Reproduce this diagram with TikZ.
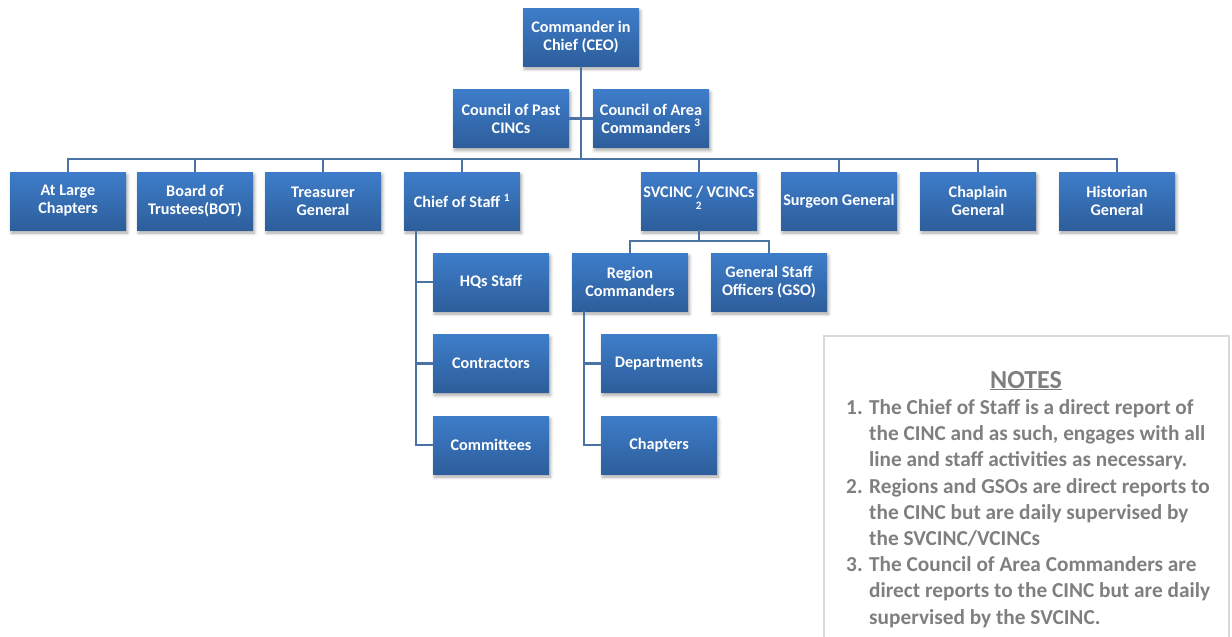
\documentclass[tikz,border=0pt]{standalone}
\usepackage{fontspec}
\setmainfont{Carlito}
\usetikzlibrary{shadows.blur}
\definecolor{boxtop}{HTML}{3E7DCA}
\definecolor{boxbot}{HTML}{2D5E9B}
\definecolor{conn}{HTML}{4A72A5}
\definecolor{notegray}{HTML}{7F7F7F}
\definecolor{noteborder}{HTML}{D9D9D9}
\begin{document}
\begin{tikzpicture}[x=1pt,y=-1pt,
  orgbox/.style={rectangle, minimum width=116pt, minimum height=58pt, inner sep=0pt,
    top color=boxtop, bottom color=boxbot, text=white,
    font=\bfseries\fontsize{16.2}{18}\selectfont, align=center,
    blur shadow={shadow xshift=1.5pt, shadow yshift=-3pt, shadow blur radius=3pt, shadow opacity=35}},
  link/.style={draw=conn, line width=2.2pt},
  notetext/.style={text=notegray, font=\bfseries\fontsize{21.3}{26.2}\selectfont, inner sep=0pt}]
\useasboundingbox (0,0) rectangle (1232,637);

% boxes
\node[orgbox] (cinc) at (581,37) {Commander in\\Chief (CEO)};
\node[orgbox] (past) at (511,118.5) {Council of Past\\CINCs};
\node[orgbox] (area) at (651,118.5) {Council of Area\\Commanders \textsuperscript{3}};

\node[orgbox] (atlarge) at (68,201) {At Large\\Chapters};
\node[orgbox] (board) at (195,201) {Board of\\Trustees(BOT)};
\node[orgbox] (treasurer) at (323,201) {Treasurer\\General};
\node[orgbox] (cos) at (462,201) {Chief of Staff \textsuperscript{1}};
\node[orgbox] (svcinc) at (699,201) {SVCINC / VCINCs\\\textsuperscript{2}};
\node[orgbox] (surgeon) at (839,201) {Surgeon General};
\node[orgbox] (chaplain) at (978,201) {Chaplain\\General};
\node[orgbox] (historian) at (1117,201) {Historian\\General};

\node[orgbox] (hqs) at (491,282) {HQs Staff};
\node[orgbox] (contractors) at (491,363.5) {Contractors};
\node[orgbox] (committees) at (491,445) {Committees};

\node[orgbox] (region) at (630,282) {Region\\Commanders};
\node[orgbox] (gso) at (769,282) {General Staff\\Officers (GSO)};
\node[orgbox] (departments) at (659,363.5) {Departments};
\node[orgbox] (chapters) at (659,445) {Chapters};

% connectors
\coordinate (bus) at (581,159);
\draw[link] (cinc.south) -- (bus);
\draw[link] (past.east) -- (area.west);
\draw[link] (atlarge.north) |- (bus) -| (historian.north);
\foreach \n in {board,treasurer,cos,svcinc,surgeon,chaplain}
  \draw[link] (\n.north) -- (\n.north |- bus);

\coordinate (cosl) at (416,230);
\draw[link] (cosl) |- (committees.west);
\draw[link] (hqs.west) -- (hqs.west -| cosl);
\draw[link] (contractors.west) -- (contractors.west -| cosl);

\coordinate (svj) at (699,241);
\draw[link] (svcinc.south) -- (svj);
\draw[link] (region.north) |- (svj) -| (gso.north);

\coordinate (rl) at (584,311);
\draw[link] (rl) |- (chapters.west);
\draw[link] (departments.west) -- (departments.west -| rl);

% notes
\draw[noteborder, line width=1.2pt] (824,650) -- (824,336) -- (1229,336) -- (1229,650);
\node[notetext, font=\bfseries\fontsize{26}{30}\selectfont, anchor=base] (notestitle) at (1026,388) {\underline{NOTES}};
\node[notetext, anchor=north west, align=left] (notes) at (846,396) {%
\begin{tabular}{@{}p{23pt}@{}l@{}}
1. & The Chief of Staff is a direct report of\\
   & the CINC and as such, engages with all\\
   & line and staff activities as necessary.\\
2. & Regions and GSOs are direct reports to\\
   & the CINC but are daily supervised by\\
   & the SVCINC/VCINCs\\
3. & The Council of Area Commanders are\\
   & direct reports to the CINC but are daily\\
   & supervised by the SVCINC.
\end{tabular}};
\end{tikzpicture}
\end{document}
